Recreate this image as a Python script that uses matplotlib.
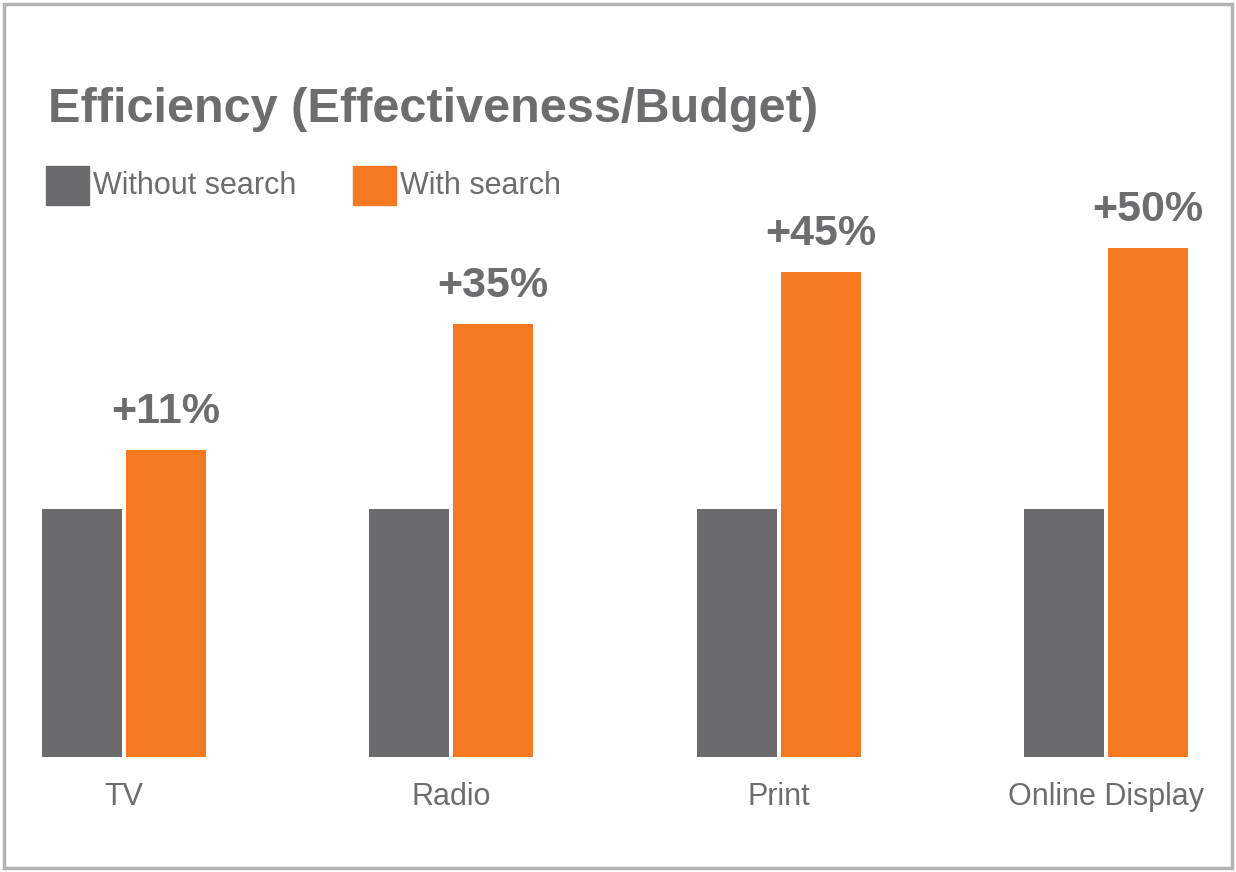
import matplotlib.pyplot as plt
from matplotlib.patches import Rectangle
import numpy as np

plt.rcParams['font.family'] = ['Liberation Sans', 'DejaVu Sans']

# data (bar heights in relative units)
categories = ["TV", "Radio", "Print", "Online Display"]
without_search = [248, 248, 248, 248]
with_search = [307, 433, 485, 509]
uplift_labels = ["+11%", "+35%", "+45%", "+50%"]

GRAY = '#6b6b6e'
ORANGE = '#f47920'
TEXT = '#6d6d6f'

W, H = 1236, 872
fig = plt.figure(figsize=(W / 100, H / 100), dpi=100)
fig.patch.set_facecolor('white')

# outer frame
fig.patches.append(Rectangle((4 / W, 4 / H), (W - 8) / W, (H - 8) / H,
                             transform=fig.transFigure, fill=False,
                             edgecolor='#b3b3b3', linewidth=2.5))

ax = fig.add_axes([42 / W, 115 / H, 1146 / W, 600 / H])
x = np.arange(len(categories))
bw = 80 / 328
gap = 4 / 328
ax.bar(x, without_search, width=bw, align='edge', color=GRAY)
ax.bar(x + bw + gap, with_search, width=bw, align='edge', color=ORANGE)

for xi, v, lab in zip(x, with_search, uplift_labels):
    ax.text(xi + bw + gap + bw / 2, v + 18, lab, ha='center', va='bottom',
            fontsize=31, color=TEXT, fontweight='bold')

ax.set_xlim(0, 3.5)
ax.set_ylim(0, 600)
ax.set_xticks(x + bw + gap / 2)
ax.set_xticklabels(categories, fontsize=22, color=TEXT)
ax.tick_params(axis='x', length=0, pad=18)
ax.set_yticks([])
for s in ax.spines.values():
    s.set_visible(False)

# title
fig.text(48 / W, 1 - 122 / H, "Efficiency (Effectiveness/Budget)",
         fontsize=35, fontweight='bold', color=TEXT, ha='left', va='baseline')

# legend
for x0, col, lab in [(46, GRAY, "Without search"), (353, ORANGE, "With search")]:
    fig.patches.append(Rectangle((x0 / W, 1 - 205 / H), 43 / W, 39 / H,
                                 transform=fig.transFigure, color=col))
    fig.text((x0 + 47) / W, 1 - 186 / H, lab, fontsize=22, color=TEXT,
             ha='left', va='center')

fig.savefig('out.png', dpi=100, facecolor='white')
